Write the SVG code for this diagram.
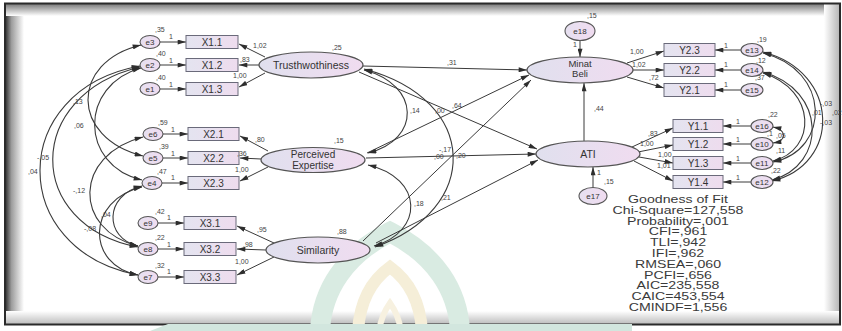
<svg xmlns="http://www.w3.org/2000/svg" width="842" height="331" viewBox="0 0 842 331">
<defs>
<linearGradient id="gl" x1="0" x2="1" y1="0" y2="0"><stop offset="0" stop-color="#e0e0ee"/><stop offset="1" stop-color="#f0dcf0"/></linearGradient>
<linearGradient id="go" x1="0" x2="1" y1="0" y2="0"><stop offset="0" stop-color="#e4e4f0"/><stop offset="1" stop-color="#eedcee"/></linearGradient>
<linearGradient id="ge" x1="0" x2="1" y1="0" y2="0"><stop offset="0" stop-color="#e6e0f0"/><stop offset="1" stop-color="#f0dcf0"/></linearGradient>
<linearGradient id="shL" x1="0" x2="1" y1="0" y2="0"><stop offset="0" stop-color="#3a3a3a"/><stop offset="0.3" stop-color="#9c9c9c"/><stop offset="1" stop-color="#ffffff"/></linearGradient>
<linearGradient id="shT" x1="0" x2="0" y1="0" y2="1"><stop offset="0" stop-color="#7a7a7a"/><stop offset="1" stop-color="#ffffff"/></linearGradient>
<linearGradient id="shR" x1="0" x2="1" y1="0" y2="0"><stop offset="0" stop-color="#ffffff"/><stop offset="1" stop-color="#b4b4b4"/></linearGradient>
<linearGradient id="shB" x1="0" x2="0" y1="0" y2="1"><stop offset="0" stop-color="#ffffff"/><stop offset="1" stop-color="#bdbdbd"/></linearGradient>
<marker id="a" viewBox="0 0 10 6" refX="10" refY="3" markerWidth="9" markerHeight="5" markerUnits="userSpaceOnUse" orient="auto-start-reverse"><path d="M0,0 L10,3 L0,6 z" fill="#2e2e2e"/></marker>
<style>
.lat{fill:url(#gl);stroke:#555;stroke-width:1.2}
.obs{fill:url(#go);stroke:#6a6a7a;stroke-width:1}
.err{fill:url(#ge);stroke:#555;stroke-width:1.1}
.p{fill:none;stroke:#3a3a3a;stroke-width:1;marker-end:url(#a)}
.c{fill:none;stroke:#3a3a3a;stroke-width:1.1;marker-start:url(#a);marker-end:url(#a)}
text{font-family:"Liberation Sans",Arial,sans-serif;fill:#333}
.lt{font-size:10.5px;text-anchor:middle}
.lt2{font-size:10px;text-anchor:middle}
.ot{font-size:10px;text-anchor:middle}
.et{font-size:8px;text-anchor:middle}
.n{font-size:7px;fill:#444}
.g{font-size:10.4px;text-anchor:middle;fill:#3a3a3a}
</style>
</defs>
<rect x="0" y="0" width="842" height="331" fill="#ffffff"/>
<g id="frame">
<rect x="6" y="4" width="18" height="320" fill="url(#shL)"/>
<rect x="6" y="4" width="834" height="12" fill="url(#shT)"/>
<rect x="824" y="4" width="16" height="320" fill="url(#shR)"/>
<rect x="6" y="311" width="834" height="13" fill="url(#shB)"/>
<rect x="5" y="3.5" width="835" height="321" fill="none" stroke="#2a2a2a" stroke-width="2"/>
</g>
<g id="watermark" fill="none">
<path d="M320,331 C322,290 345,255 390,232 C435,255 458,290 460,331" stroke="#d9ebe2" stroke-width="20"/>
<path d="M358,331 C360,300 372,280 390,267 C408,280 420,300 422,331" stroke="#f5eed8" stroke-width="12"/>
<path d="M379,331 C381,318 385,310 390,303 C395,310 399,318 401,331" stroke="#f7f1e0" stroke-width="6"/>
<path d="M150,331 L168,324 L632,324 L632,331 Z" fill="#d2e6de" stroke="none"/>
</g>
<g id="connectors">
<line class="p" x1="265" y1="57" x2="239" y2="44"/>
<line class="p" x1="259" y1="65" x2="239" y2="65"/>
<line class="p" x1="265" y1="73" x2="239" y2="87"/>
<line class="p" x1="268" y1="151" x2="240" y2="136"/>
<line class="p" x1="261" y1="159" x2="240" y2="158"/>
<line class="p" x1="268" y1="167" x2="240" y2="181"/>
<line class="p" x1="274" y1="243" x2="237" y2="226"/>
<line class="p" x1="266" y1="250" x2="237" y2="249"/>
<line class="p" x1="274" y1="257" x2="237" y2="275"/>
<line class="p" x1="160" y1="42" x2="186" y2="42"/>
<line class="p" x1="160" y1="65" x2="186" y2="65"/>
<line class="p" x1="160" y1="89" x2="186" y2="89"/>
<line class="p" x1="163" y1="134" x2="188" y2="134"/>
<line class="p" x1="163" y1="158" x2="188" y2="158"/>
<line class="p" x1="162" y1="183" x2="188" y2="183"/>
<line class="p" x1="158" y1="223" x2="184" y2="223"/>
<line class="p" x1="158" y1="249" x2="184" y2="249"/>
<line class="p" x1="158" y1="277" x2="184" y2="277"/>
<path class="c" d="M141,45 C70,62 70,138 143,156"/>
<path class="c" d="M141,68 C79,85 79,165 142,180"/>
<path class="c" d="M143,137 C73,155 73,230 138,246"/>
<path class="c" d="M140,67 C24,95 24,225 138,247"/>
<path class="c" d="M140,66 C7,90 7,250 138,275"/>
<path class="c" d="M142,186 C104,195 104,238 138,246"/>
<path class="c" d="M142,187 C86,200 86,265 138,275"/>
<line class="p" x1="363" y1="66" x2="527" y2="70"/>
<line class="p" x1="359" y1="72" x2="537" y2="149"/>
<line class="p" x1="367" y1="153" x2="529" y2="75"/>
<line class="p" x1="366" y1="158" x2="536" y2="154"/>
<line class="p" x1="363" y1="241" x2="531" y2="80"/>
<line class="p" x1="376" y1="243" x2="538" y2="160"/>
<path class="c" d="M364,70 C421,85 421,140 368,153"/>
<path class="c" d="M368,165 C424,178 424,232 374,246"/>
<path class="c" d="M364,69 C481,100 481,210 375,247"/>
<line class="p" x1="584" y1="141" x2="584" y2="83"/>
<line class="p" x1="580" y1="40.5" x2="580" y2="57"/>
<line class="p" x1="593" y1="187.5" x2="593" y2="167"/>
<line class="p" x1="627" y1="63" x2="664" y2="51"/>
<line class="p" x1="633" y1="70" x2="664" y2="70"/>
<line class="p" x1="627" y1="77" x2="664" y2="88"/>
<line class="p" x1="632" y1="147" x2="673" y2="128"/>
<line class="p" x1="638" y1="152" x2="673" y2="145"/>
<line class="p" x1="639" y1="157" x2="673" y2="163"/>
<line class="p" x1="634" y1="161" x2="673" y2="181"/>
<line class="p" x1="741" y1="50" x2="715" y2="50"/>
<line class="p" x1="741" y1="70" x2="715" y2="70"/>
<line class="p" x1="741" y1="90" x2="715" y2="90"/>
<line class="p" x1="751" y1="126" x2="723" y2="126"/>
<line class="p" x1="751" y1="144" x2="723" y2="144"/>
<line class="p" x1="751" y1="163" x2="723" y2="163"/>
<line class="p" x1="751" y1="182" x2="723" y2="182"/>
<path class="c" d="M763,52 C841,72 841,165 772,181"/>
<path class="c" d="M763,53 C831,70 831,150 773,162"/>
<path class="c" d="M763,72 C827,90 827,165 772,180"/>
<path class="c" d="M763,73 C817,90 817,150 773,161"/>
<path class="c" d="M773,127 C787,130 787,141 773,143"/>
</g>
<g id="Trusthwothiness"><ellipse class="lat" cx="311" cy="65" rx="52" ry="13"/><text class="lt" x="311" y="69">Trusthwothiness</text><text class="n" x="332" y="50">,25</text></g>
<g id="PerceivedExpertise"><ellipse class="lat" cx="313" cy="160" rx="52" ry="12.5"/><text class="lt2" x="313" y="158">Perceived</text><text class="lt2" x="313" y="168.5">Expertise</text><text class="n" x="334" y="143">,15</text></g>
<g id="Similarity"><ellipse class="lat" cx="318" cy="250" rx="52" ry="13"/><text class="lt" x="318" y="254">Similarity</text><text class="n" x="337" y="234">,88</text></g>
<g id="MinatBeli"><ellipse class="lat" cx="580" cy="70" rx="53" ry="13"/><text class="lt" x="580" y="67" style="font-size:9.5px">Minat</text><text class="lt" x="580" y="77" style="font-size:9.5px">Beli</text></g>
<g id="ATI"><ellipse class="lat" cx="588" cy="154" rx="52" ry="13"/><text class="lt" x="588" y="158">ATI</text></g>
<g id="e18"><ellipse class="err" cx="580" cy="31" rx="15" ry="9.5"/><text class="et" x="580" y="34">e18</text><text class="n" x="587" y="18">,15</text></g>
<g id="e17"><ellipse class="err" cx="593" cy="196" rx="14" ry="8.5"/><text class="et" x="593" y="199">e17</text><text class="n" x="604" y="184">,15</text></g>
<g id="X1.1"><rect class="obs" x="186" y="35.5" width="52" height="13"/><text class="ot" x="212" y="45.5">X1.1</text></g>
<g id="X1.2"><rect class="obs" x="186" y="58.5" width="52" height="13"/><text class="ot" x="212" y="68.5">X1.2</text></g>
<g id="X1.3"><rect class="obs" x="186" y="82.5" width="52" height="13"/><text class="ot" x="212" y="92.5">X1.3</text></g>
<g id="X2.1"><rect class="obs" x="188" y="127.5" width="51" height="13"/><text class="ot" x="213.5" y="137.5">X2.1</text></g>
<g id="X2.2"><rect class="obs" x="188" y="151.5" width="51" height="13"/><text class="ot" x="213.5" y="161.5">X2.2</text></g>
<g id="X2.3"><rect class="obs" x="188" y="176.5" width="51" height="13"/><text class="ot" x="213.5" y="186.5">X2.3</text></g>
<g id="X3.1"><rect class="obs" x="184" y="216.5" width="52" height="13"/><text class="ot" x="210" y="226.5">X3.1</text></g>
<g id="X3.2"><rect class="obs" x="184" y="242.5" width="52" height="13"/><text class="ot" x="210" y="252.5">X3.2</text></g>
<g id="X3.3"><rect class="obs" x="184" y="270.5" width="52" height="13"/><text class="ot" x="210" y="280.5">X3.3</text></g>
<g id="Y2.3"><rect class="obs" x="664" y="43.5" width="51" height="13"/><text class="ot" x="689.5" y="53.5">Y2.3</text></g>
<g id="Y2.2"><rect class="obs" x="664" y="63.5" width="51" height="13"/><text class="ot" x="689.5" y="73.5">Y2.2</text></g>
<g id="Y2.1"><rect class="obs" x="664" y="83.5" width="51" height="13"/><text class="ot" x="689.5" y="93.5">Y2.1</text></g>
<g id="Y1.1"><rect class="obs" x="673" y="119.5" width="50" height="13"/><text class="ot" x="698" y="129.5">Y1.1</text></g>
<g id="Y1.2"><rect class="obs" x="673" y="137.5" width="50" height="13"/><text class="ot" x="698" y="147.5">Y1.2</text></g>
<g id="Y1.3"><rect class="obs" x="673" y="156.5" width="50" height="13"/><text class="ot" x="698" y="166.5">Y1.3</text></g>
<g id="Y1.4"><rect class="obs" x="673" y="175.5" width="50" height="13"/><text class="ot" x="698" y="185.5">Y1.4</text></g>
<g id="e3"><ellipse class="err" cx="150" cy="42" rx="10" ry="6.5"/><text class="et" x="150" y="45">e3</text><text class="n" x="155" y="32">,35</text></g>
<g id="e2"><ellipse class="err" cx="150" cy="65" rx="10" ry="6.5"/><text class="et" x="150" y="68">e2</text><text class="n" x="156" y="56">,40</text></g>
<g id="e1"><ellipse class="err" cx="150" cy="89" rx="10" ry="6.5"/><text class="et" x="150" y="92">e1</text><text class="n" x="156" y="80">,40</text></g>
<g id="e6"><ellipse class="err" cx="153" cy="134" rx="10" ry="6.5"/><text class="et" x="153" y="137">e6</text><text class="n" x="158" y="125">,59</text></g>
<g id="e5"><ellipse class="err" cx="153" cy="158" rx="10" ry="6.5"/><text class="et" x="153" y="161">e5</text><text class="n" x="159" y="149">,39</text></g>
<g id="e4"><ellipse class="err" cx="152" cy="183" rx="10" ry="6.5"/><text class="et" x="152" y="186">e4</text><text class="n" x="157" y="174">,47</text></g>
<g id="e9"><ellipse class="err" cx="148" cy="223" rx="10" ry="6.5"/><text class="et" x="148" y="226">e9</text><text class="n" x="155" y="214">,42</text></g>
<g id="e8"><ellipse class="err" cx="148" cy="249" rx="10" ry="6.5"/><text class="et" x="148" y="252">e8</text><text class="n" x="155" y="240">,22</text></g>
<g id="e7"><ellipse class="err" cx="148" cy="277" rx="10" ry="6.5"/><text class="et" x="148" y="280">e7</text><text class="n" x="155" y="268">,32</text></g>
<g id="e13"><ellipse class="err" cx="752" cy="50" rx="11" ry="6.5"/><text class="et" x="752" y="53">e13</text><text class="n" x="757" y="42">,19</text></g>
<g id="e14"><ellipse class="err" cx="752" cy="70" rx="11" ry="6.5"/><text class="et" x="752" y="73">e14</text><text class="n" x="756" y="63">,12</text></g>
<g id="e15"><ellipse class="err" cx="752" cy="90" rx="11" ry="6.5"/><text class="et" x="752" y="93">e15</text><text class="n" x="755" y="80">,37</text></g>
<g id="e16"><ellipse class="err" cx="762" cy="126" rx="11" ry="6.5"/><text class="et" x="762" y="129">e16</text><text class="n" x="768" y="117">,22</text></g>
<g id="e10"><ellipse class="err" cx="762" cy="144" rx="11" ry="6.5"/><text class="et" x="762" y="147">e10</text><text class="n" x="767" y="136">,1</text></g>
<g id="e11"><ellipse class="err" cx="762" cy="163" rx="11" ry="6.5"/><text class="et" x="762" y="166">e11</text><text class="n" x="776" y="153">,11</text></g>
<g id="e12"><ellipse class="err" cx="762" cy="182" rx="11" ry="6.5"/><text class="et" x="762" y="185">e12</text><text class="n" x="771" y="173">,22</text></g>
<g id="labels">
<text class="n" x="253" y="48">1,02</text>
<text class="n" x="240" y="62">,83</text>
<text class="n" x="233" y="78">1,00</text>
<text class="n" x="255" y="142">,80</text>
<text class="n" x="237" y="156">,36</text>
<text class="n" x="235" y="172">1,00</text>
<text class="n" x="257" y="232">,95</text>
<text class="n" x="243" y="247">,98</text>
<text class="n" x="235" y="264">1,00</text>
<text class="n" x="169" y="39">1</text><text class="n" x="169" y="63">1</text><text class="n" x="169" y="87">1</text>
<text class="n" x="171" y="132">1</text><text class="n" x="171" y="156">1</text><text class="n" x="171" y="180">1</text>
<text class="n" x="167" y="220">1</text><text class="n" x="167" y="247">1</text><text class="n" x="167" y="274">1</text>
<text class="n" x="73" y="104">,13</text>
<text class="n" x="74" y="128">,06</text>
<text class="n" x="37" y="160">-,05</text>
<text class="n" x="28" y="174">,04</text>
<text class="n" x="73" y="193">-,12</text>
<text class="n" x="101" y="217">,04</text>
<text class="n" x="84" y="231">-,08</text>
<text class="n" x="447" y="65">,31</text>
<text class="n" x="410" y="113">,14</text>
<text class="n" x="435" y="113">,00</text>
<text class="n" x="452" y="108">,64</text>
<text class="n" x="439" y="152">-,17</text>
<text class="n" x="434" y="159">,00</text>
<text class="n" x="456" y="158">,20</text>
<text class="n" x="414" y="206">,18</text>
<text class="n" x="441" y="200">,21</text>
<text class="n" x="594" y="111">,44</text>
<text class="n" x="573" y="47">1</text>
<text class="n" x="597" y="175">1</text>
<text class="n" x="630" y="54">1,00</text>
<text class="n" x="632" y="67">1,02</text>
<text class="n" x="649" y="80">,72</text>
<text class="n" x="648" y="136">,83</text>
<text class="n" x="640" y="146">1,00</text>
<text class="n" x="658" y="157">1,00</text>
<text class="n" x="657" y="168">1,01</text>
<text class="n" x="724" y="48">1</text><text class="n" x="724" y="67">1</text><text class="n" x="724" y="87">1</text>
<text class="n" x="736" y="124">1</text><text class="n" x="736" y="142">1</text><text class="n" x="736" y="161">1</text><text class="n" x="736" y="180">1</text>
<text class="n" x="776" y="138">,05</text>
<text class="n" x="820" y="106">-,03</text>
<text class="n" x="812" y="115">,01</text>
<text class="n" x="832" y="115">,02</text>
<text class="n" x="820" y="125">-,03</text>
</g>
<g id="fit" transform="translate(678,0) scale(1.36,1)">
<text class="g" x="0" y="203">Goodness of Fit</text>
<text class="g" x="0" y="213.8">Chi-Square=127,558</text>
<text class="g" x="0" y="224.6">Probability=,001</text>
<text class="g" x="0" y="235.4">CFI=,961</text>
<text class="g" x="0" y="246.2">TLI=,942</text>
<text class="g" x="0" y="257">IFI=,962</text>
<text class="g" x="0" y="267.8">RMSEA=,060</text>
<text class="g" x="0" y="278.6">PCFI=,656</text>
<text class="g" x="0" y="289.4">AIC=235,558</text>
<text class="g" x="0" y="300.2">CAIC=453,554</text>
<text class="g" x="0" y="311">CMINDF=1,556</text>
</g>
</svg>
